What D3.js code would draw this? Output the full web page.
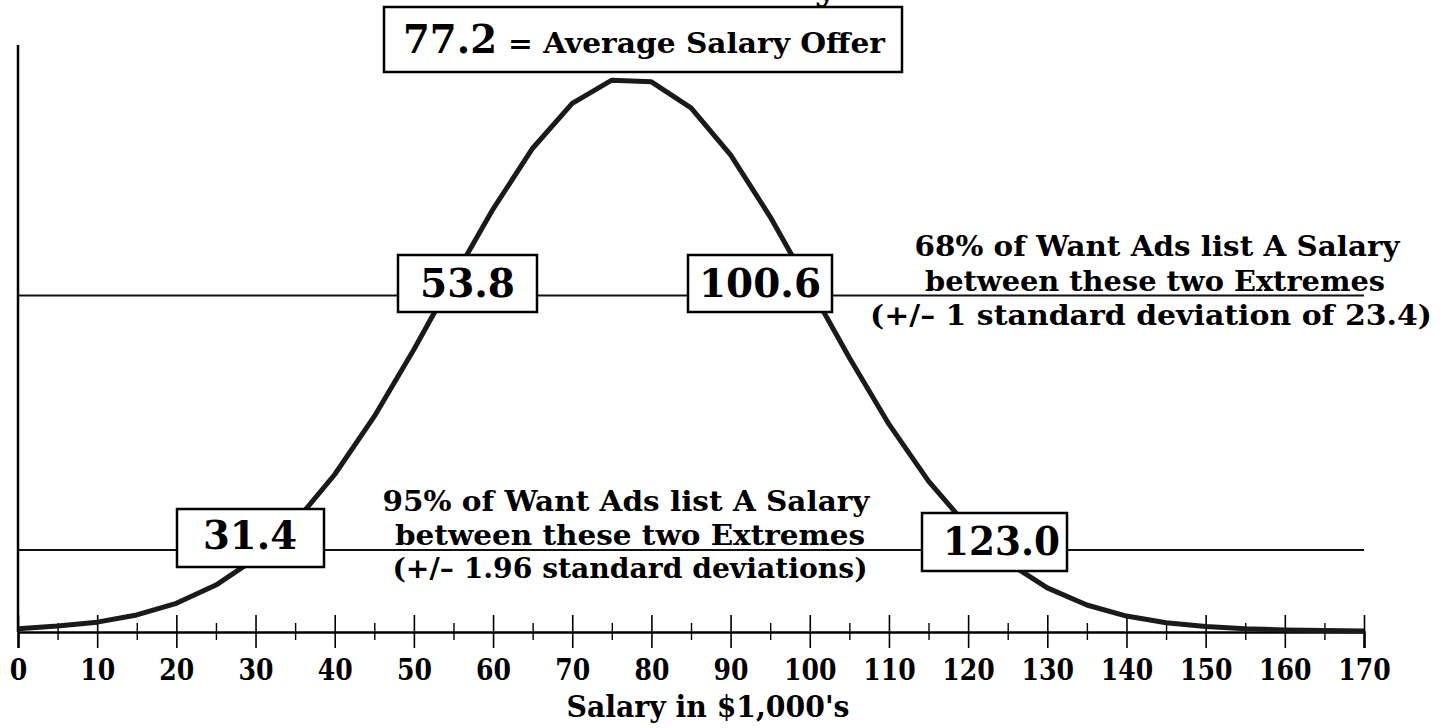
<!DOCTYPE html>
<html><head><meta charset="utf-8">
<script src="https://cdn.jsdelivr.net/npm/d3@7"></script>
<style>
html,body{margin:0;padding:0;background:#fff;}
svg{display:block;}
text{font-family:"DejaVu Serif",serif;font-weight:bold;fill:#000;}
</style>
</head><body>
<svg id="chart" width="1449" height="728"></svg>
<script>
// ---------- data ----------
const salaryK = [0,5,10,15,20,25,30,35,40,45,50,55,60,65,70,75,80,85,90,95,100,105,110,115,120,125,130,135,140,145,150,155,160,165,170];
const relFreq = [0.004,0.009,0.016,0.029,0.050,0.083,0.131,0.197,0.283,0.388,0.509,0.638,0.763,0.873,0.954,0.996,0.993,0.946,0.861,0.749,0.622,0.494,0.374,0.271,0.188,0.124,0.078,0.047,0.027,0.015,0.008,0.004,0.002,0.001,0.000];
const majorTicks = [0,10,20,30,40,50,60,70,80,90,100,110,120,130,140,150,160,170];
const tickLabels = ["0","10","20","30","40","50","60","70","80","90","100","110","120","130","140","150","160","170"];
const minorTicks = [5,15,25,35,45,55,65,75,85,95,105,115,125,135,145,155,165];
const meanValue = "77.2";
const meanText = "= Average Salary Offer";
const bandLevel = [0.6065, 0.1465];           // height of the 68% and 95% lines
const bandLow  = ["53.8", "31.4"];
const bandHigh = ["100.6", "123.0"];
const band68Lines = ["68% of Want Ads list A Salary", "between these two Extremes", "(+/\u2013 1 standard deviation of  23.4)"];
const band95Lines = ["95% of Want Ads list A Salary", "between these two Extremes", "(+/\u2013 1.96 standard deviations)"];
const xTitle = "Salary in $1,000's";
const titleText = "Salary";

// ---------- setup ----------
const svg = d3.select("#chart");
const x = d3.scaleLinear().domain([0,170]).range([18,1364]);
const y = d3.scaleLinear().domain([0,1]).range([631,78]);
const axisY = 632;
const FONT = '"DejaVu Serif", serif';

function fit(t, w){ t.attr("textLength", w).attr("lengthAdjust","spacingAndGlyphs"); return t; }

// clipped title (only descender visible, as in the reference)
svg.append("text").attr("x",838).attr("y",-1).attr("text-anchor","end")
   .attr("font-size",40).text(titleText);

// vertical axis line
svg.append("line").attr("x1",x(0)).attr("x2",x(0)).attr("y1",45).attr("y2",axisY)
   .attr("stroke","#000").attr("stroke-width",2.5);

// band horizontal lines
svg.selectAll("line.band").data(bandLevel).enter().append("line").attr("class","band")
   .attr("x1",x(0)).attr("x2",x(170))
   .attr("y1",d=>y(d)).attr("y2",d=>y(d))
   .attr("stroke","#111").attr("stroke-width",2);

// x axis: major ticks
const gMaj = svg.append("g").attr("transform",`translate(0,${axisY})`)
  .call(d3.axisBottom(x).tickValues(majorTicks).tickFormat((d,i)=>tickLabels[i]).tickSizeOuter(0).tickSize(16));
gMaj.select(".domain").attr("stroke","#000").attr("stroke-width",2.5);
gMaj.selectAll(".tick line").attr("y1",-17).attr("y2",16).attr("stroke","#000").attr("stroke-width",1.6);
gMaj.selectAll(".tick text").attr("y",48).attr("dy",0).attr("font-size",30)
   .attr("font-family",FONT).attr("font-weight","bold").attr("fill","#000")
   .each(function(d,i){ fit(d3.select(this), 17.5*tickLabels[i].length); });
// minor ticks
const gMin = svg.append("g").attr("transform",`translate(0,${axisY})`)
  .call(d3.axisBottom(x).tickValues(minorTicks).tickFormat("").tickSizeOuter(0).tickSize(8));
gMin.select(".domain").remove();
gMin.selectAll(".tick line").attr("y1",-9).attr("y2",8).attr("stroke","#000").attr("stroke-width",1.4);

// curve
const line = d3.line().x((d,i)=>x(salaryK[i])).y(d=>y(d)).curve(d3.curveLinear);
svg.append("path").datum(relFreq).attr("d",line)
   .attr("fill","none").attr("stroke","#1a1a1a").attr("stroke-width",5).attr("stroke-linejoin","round");

// axis title
fit(svg.append("text").attr("x",708).attr("y",717).attr("text-anchor","middle").attr("font-size",29).text(xTitle),283);

// boxes
function box(x0,y0,x1,y1){
  svg.append("rect").attr("x",x0).attr("y",y0).attr("width",x1-x0).attr("height",y1-y0)
     .attr("fill","#fff").attr("stroke","#000").attr("stroke-width",2.5);
}
// mean box
box(384,7,902,72);
fit(svg.append("text").attr("x",403).attr("y",53).attr("font-size",39).text(meanValue),94);
fit(svg.append("text").attr("x",508).attr("y",53).attr("font-size",27).text(meanText),377);

// 68% boxes
box(398,255,537,312);
fit(svg.append("text").attr("x",467.5).attr("y",297).attr("text-anchor","middle").attr("font-size",40).text(bandLow[0]),95);
box(688,255,832,312);
fit(svg.append("text").attr("x",760).attr("y",297).attr("text-anchor","middle").attr("font-size",40).text(bandHigh[0]),122);
// 95% boxes
box(177,509,324,567);
fit(svg.append("text").attr("x",250).attr("y",549).attr("text-anchor","middle").attr("font-size",40).text(bandLow[1]),94);
box(922,513,1067,571);
fit(svg.append("text").attr("x",1001.5).attr("y",555).attr("text-anchor","middle").attr("font-size",40).text(bandHigh[1]),117);

// band texts
const b68 = [{cx:1157,y:256,w:485},{cx:1155,y:291,w:460},{cx:1151,y:325,w:562}];
band68Lines.forEach((s,i)=>{
  fit(svg.append("text").attr("x",b68[i].cx).attr("y",b68[i].y).attr("text-anchor","middle").attr("font-size",27).text(s), b68[i].w);
});
const b95 = [{cx:626,y:511,w:487},{cx:630,y:545,w:470},{cx:630,y:578,w:475}];
band95Lines.forEach((s,i)=>{
  fit(svg.append("text").attr("x",b95[i].cx).attr("y",b95[i].y).attr("text-anchor","middle").attr("font-size",27).text(s), b95[i].w);
});
</script>
</body></html>
